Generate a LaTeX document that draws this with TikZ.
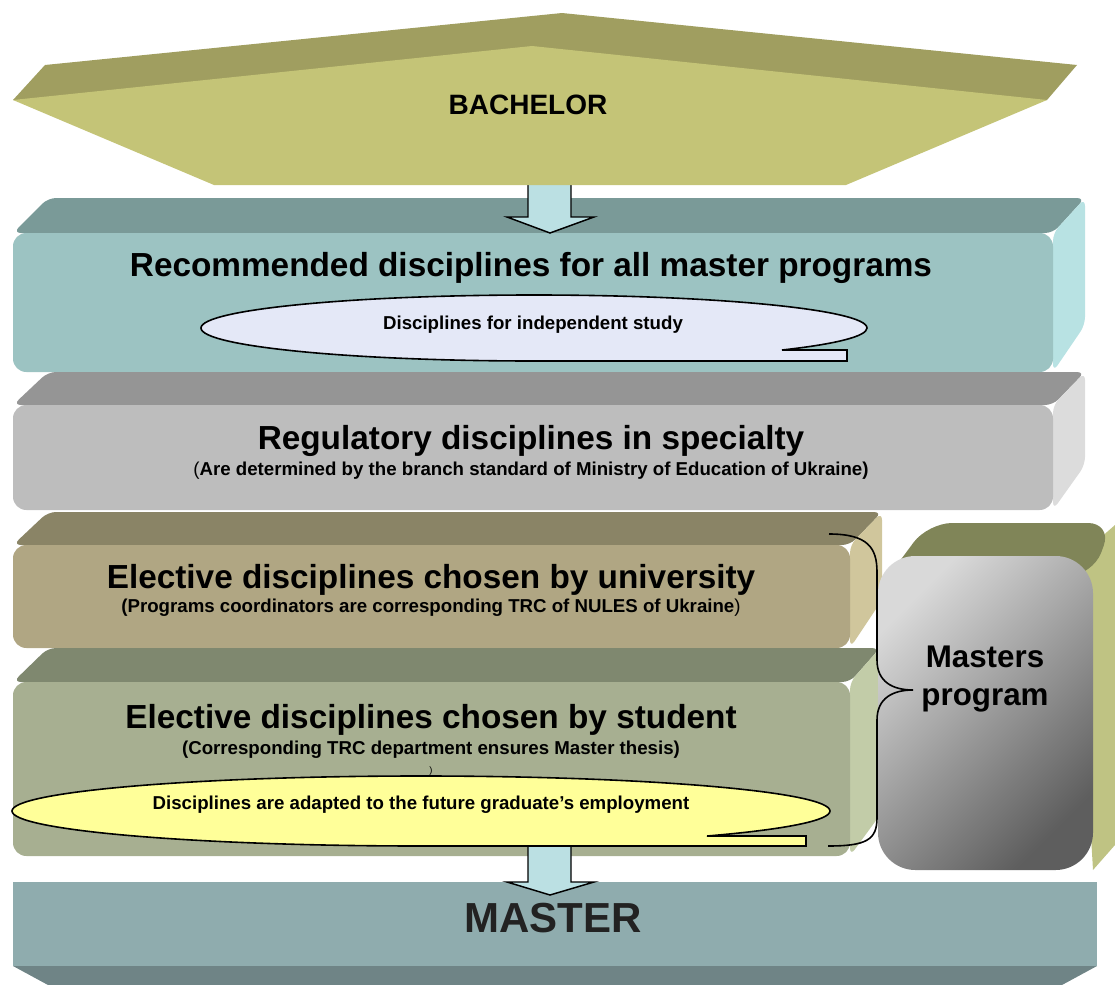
\documentclass[tikz,border=0pt]{standalone}
\usepackage{fontspec}
\setmainfont{Liberation Sans}
\definecolor{bachback}{HTML}{A09E60}
\definecolor{bachfront}{HTML}{C4C477}
\definecolor{cAtop}{HTML}{7A9A98}
\definecolor{cAfront}{HTML}{9CC3C2}
\definecolor{cAside}{HTML}{B8E2E3}
\definecolor{cBtop}{HTML}{959595}
\definecolor{cBfront}{HTML}{BDBDBD}
\definecolor{cBside}{HTML}{DCDCDC}
\definecolor{cCtop}{HTML}{8A8466}
\definecolor{cCfront}{HTML}{B0A683}
\definecolor{cCside}{HTML}{D0C69C}
\definecolor{cDtop}{HTML}{7F886F}
\definecolor{cDfront}{HTML}{A7AF91}
\definecolor{cDside}{HTML}{C2CCA8}
\definecolor{arrowc}{HTML}{BBE0E3}
\definecolor{ellA}{HTML}{E4E8F7}
\definecolor{ellB}{HTML}{FFFF99}
\definecolor{mptop}{HTML}{808558}
\definecolor{mpside}{HTML}{BFC383}
\definecolor{mfront}{HTML}{8FACAE}
\definecolor{mbottom}{HTML}{6F8486}
\definecolor{mtext}{HTML}{222222}
\tikzset{
  titletext/.style={font=\bfseries\fontsize{25}{28}\selectfont},
  subtext/.style={font=\bfseries\fontsize{14}{16}\selectfont},
  blockarrow/.style={fill=arrowc, draw=black, line width=1.1pt, line join=miter},
  callout/.style={draw=black, line width=1.2pt},
}
\begin{document}
\begin{tikzpicture}[x=0.75pt,y=-0.75pt]
\useasboundingbox (0,0) rectangle (1115,985);

% ---- box 1 (recommended)
\fill[cAtop, rounded corners=6] (13,233) -- (48,198) -- (1085,198) -- (1053,233) -- cycle;
\fill[cAside, rounded corners=6] (1053,233) -- (1085,198) -- (1085,325) -- (1053,372) -- cycle;
\fill[cAfront, rounded corners=10] (13,233) rectangle (1053,372);
\node[titletext] (rec) at (531,268) {Recommended disciplines for all master programs};
\path[callout, fill=ellA] (782,350) -- (847,350) -- (847,361) -- (534,361)
  arc[start angle=90, end angle=401.8, x radius=333, y radius=33] -- cycle;
\node[subtext] (indep) at (533,325) {Disciplines for independent study};

% ---- arrow 1 and bachelor
\draw[blockarrow] (528,180) -- (571,180) -- (571,217) -- (594,217) -- (550,233) -- (507,217) -- (528,217) -- cycle;
\fill[bachback] (45,65) -- (562,13) -- (1077,65) -- (1047,100) -- (13,100) -- cycle;
\fill[bachfront] (13,100) -- (532,46) -- (1047,100) -- (846,185) -- (214,185) -- cycle;
\node[font=\bfseries\fontsize{21}{24}\selectfont] (bach) at (528,105) {BACHELOR};

% ---- box 2 (regulatory)
\fill[cBtop, rounded corners=6] (13,405) -- (48,372) -- (1085,372) -- (1053,405) -- cycle;
\fill[cBside, rounded corners=6] (1053,405) -- (1085,372) -- (1085,465) -- (1053,510) -- cycle;
\fill[cBfront, rounded corners=10] (13,405) rectangle (1053,510);
\node[titletext] (reg) at (531,441) {Regulatory disciplines in specialty};
\node[subtext] (regsub) at (531,471) {{\mdseries(}Are determined by the branch standard of Ministry of Education of Ukraine)};

% ---- box 3 (elective university)
\fill[cCtop, rounded corners=6] (13,545) -- (48,512) -- (882,512) -- (850,545) -- cycle;
\fill[cCside, rounded corners=6] (850,545) -- (882,512) -- (882,600) -- (850,648) -- cycle;
\fill[cCfront, rounded corners=10] (13,545) rectangle (850,648);
\node[titletext] (uni) at (431,580) {Elective disciplines chosen by university};
\node[subtext] (unisub) at (431,608) {(Programs coordinators are corresponding TRC of NULES of Ukraine{\mdseries)}};

% ---- box 4 (elective student)
\fill[cDtop, rounded corners=6] (13,682) -- (48,648) -- (880,648) -- (850,682) -- cycle;
\fill[cDside, rounded corners=6] (850,682) -- (880,648) -- (880,815) -- (850,856) -- cycle;
\fill[cDfront, rounded corners=10] (13,682) rectangle (850,856);
\node[titletext] (stu) at (431,720) {Elective disciplines chosen by student};
\node[subtext] (stusub) at (431,750) {(Corresponding TRC department ensures Master thesis)};
\node[font=\fontsize{7}{8}\selectfont] (paren) at (431,771) {)};

% ---- master box
\fill[mfront] (13,882) rectangle (1097,966);
\fill[mbottom] (13,966) -- (1097,966) -- (1062,985) -- (48,985) -- cycle;
\node[font=\bfseries\fontsize{31.5}{34}\selectfont, text=mtext] (master) at (553,918) {MASTER};

% ---- arrow 2
\draw[blockarrow] (528,840) -- (571,840) -- (571,882) -- (594,882) -- (550,895) -- (507,882) -- (528,882) -- cycle;
\path[callout, fill=ellB] (707,836) -- (806,836) -- (806,846) -- (421,846)
  arc[start angle=90, end angle=405.6, x radius=409, y radius=35] -- cycle;
\node[subtext] (adapt) at (421,805) {Disciplines are adapted to the future graduate’s employment};

% ---- masters program box
\fill[mpside] (1075,560) -- (1115,525) -- (1115,845) -- (1093,870) -- cycle;
\fill[mptop, rounded corners=18] (882,585) -- (928,523) -- (1112,523) -- (1093,575) -- cycle;
\shade[rounded corners=28, top color=black!15, bottom color=black!63, shading angle=45] (878,556) rectangle (1093,870);
\node[font=\bfseries\fontsize{23.5}{28.5}\selectfont, align=center] (mp) at (985,679) {Masters\\program};

% ---- brace
\draw[line width=1.2pt] (829,534) .. controls (868,534) and (877,548) .. (877,572)
  -- (877,660) .. controls (877,682) and (893,690) .. (913,690)
  .. controls (893,690) and (877,698) .. (877,720)
  -- (877,818) .. controls (877,840) and (866,846) .. (828,846);
\end{tikzpicture}
\end{document}
